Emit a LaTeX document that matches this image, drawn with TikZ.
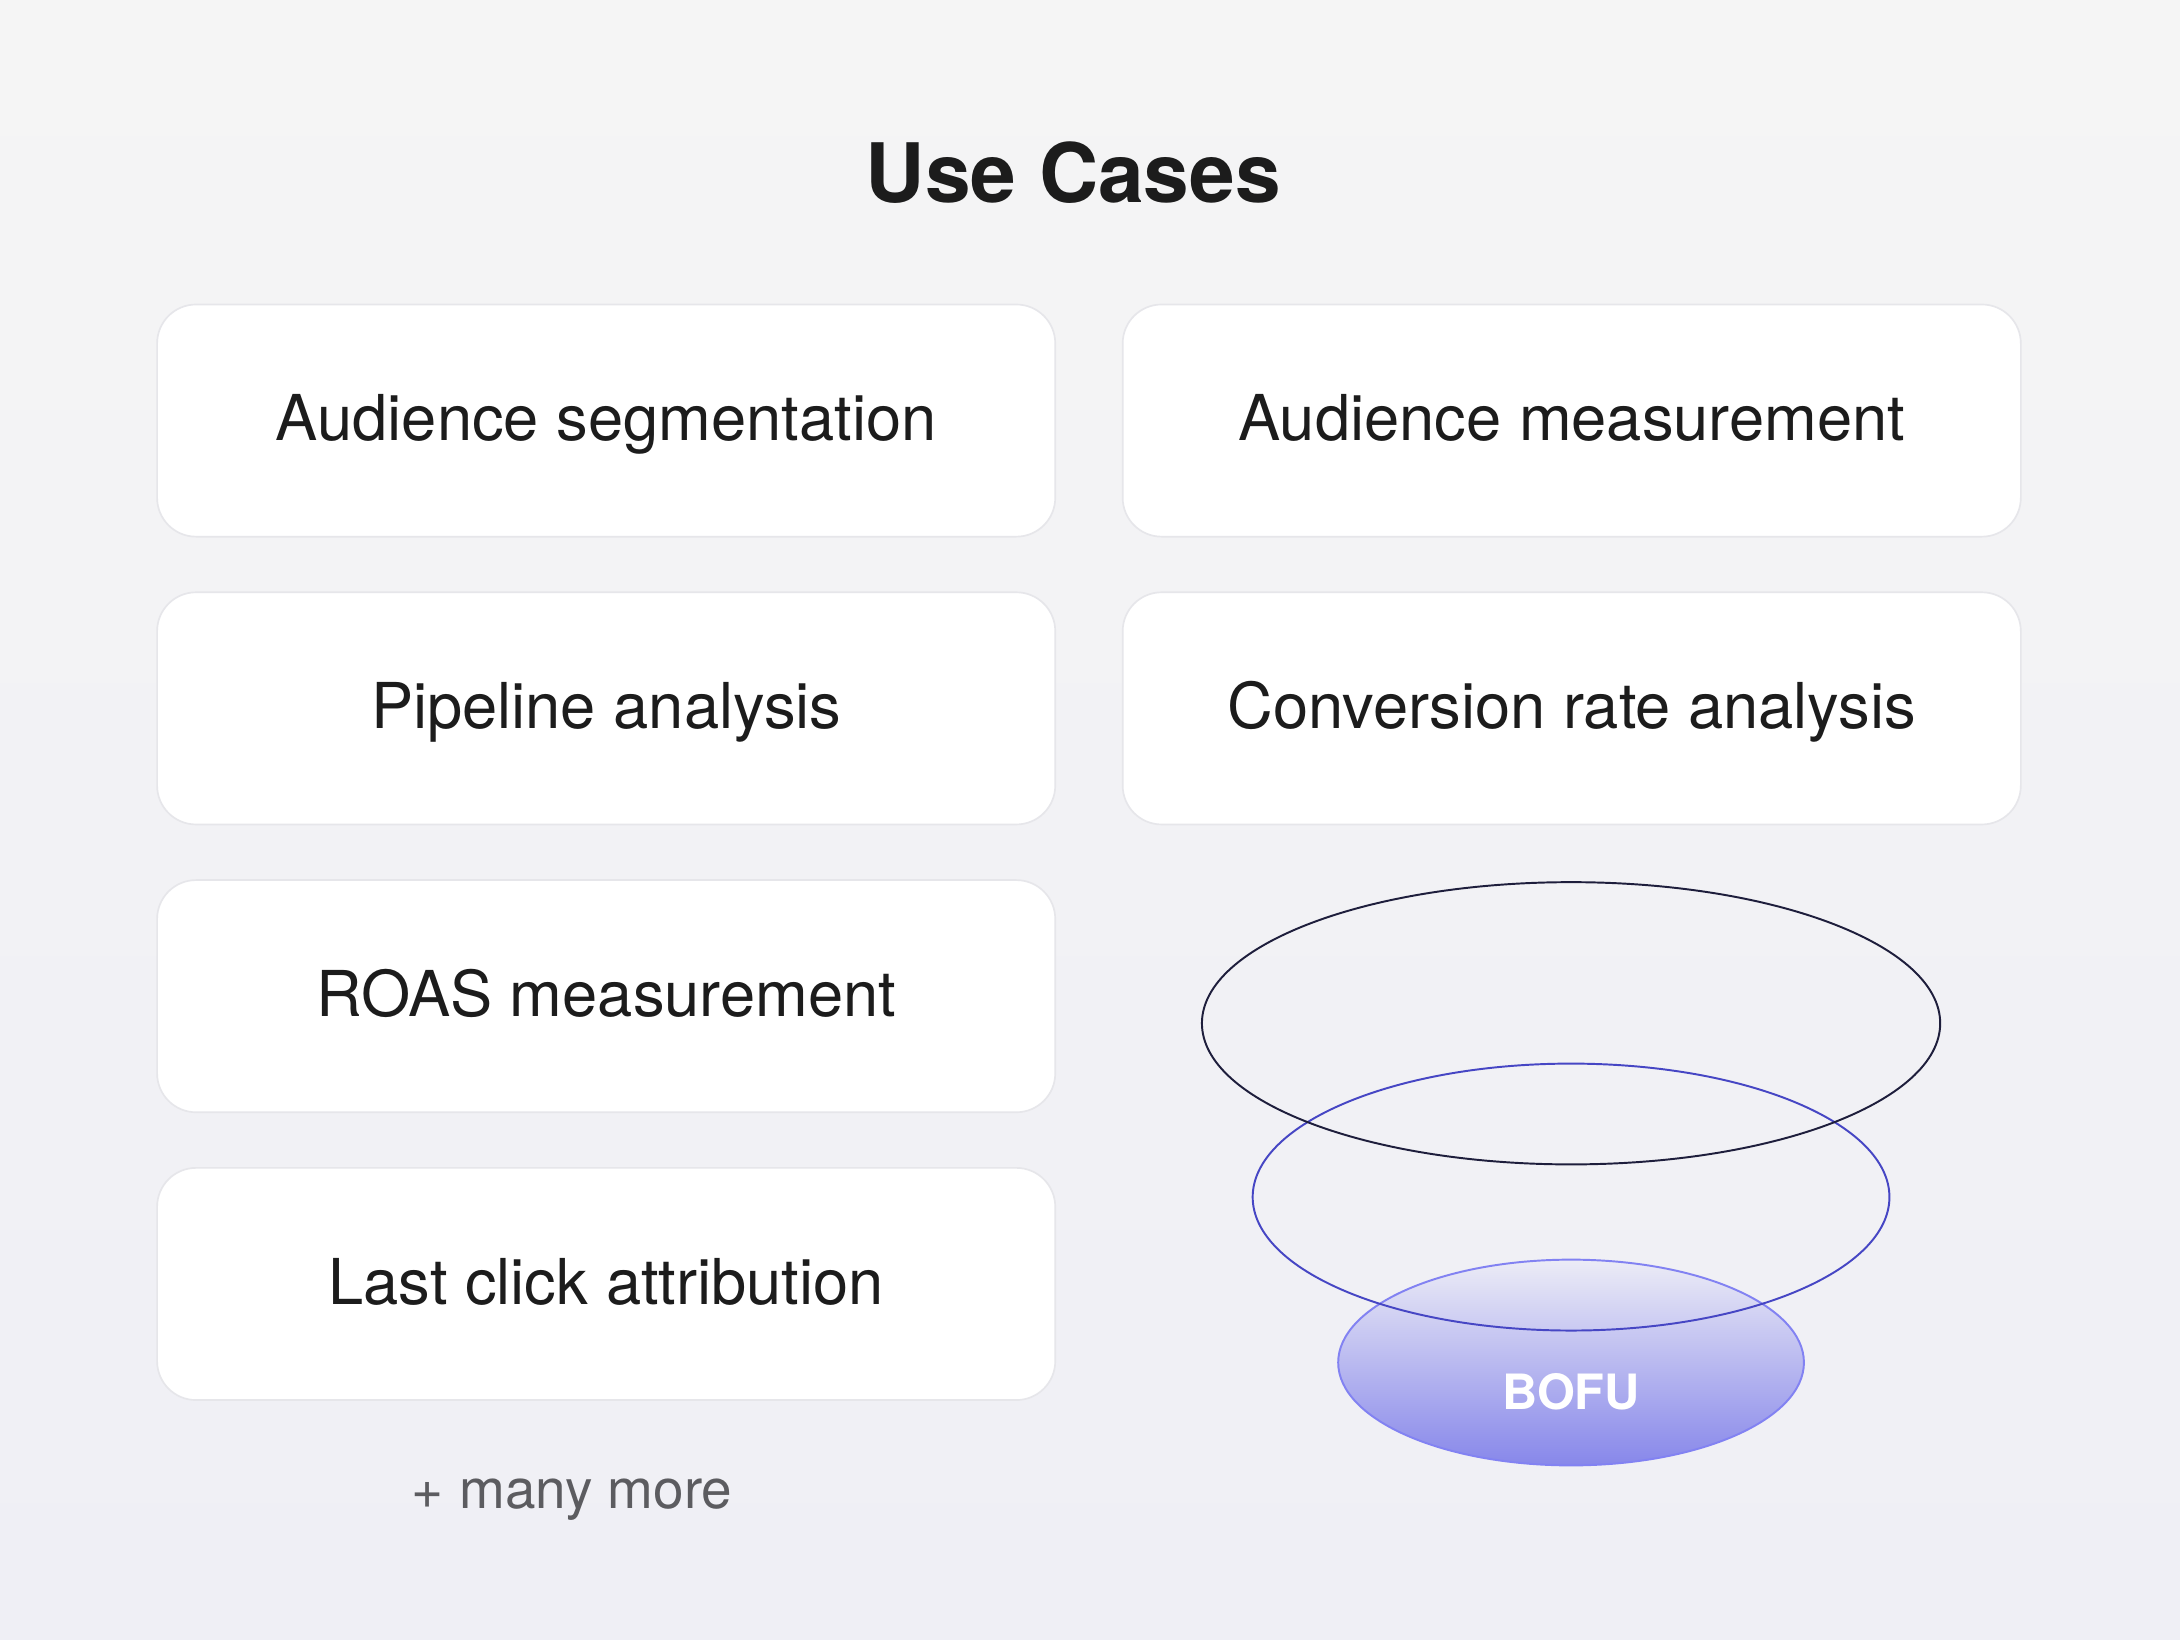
\documentclass[tikz,border=0pt]{standalone}
\usepackage{fontspec}
\setmainfont{TeX Gyre Heros}
\usetikzlibrary{shapes.geometric}

\definecolor{bgtop}{HTML}{F5F5F5}
\definecolor{bgbottom}{HTML}{EFEFF5}
\definecolor{caseedge}{HTML}{E6E6EA}
\definecolor{casetext}{HTML}{1C1C1C}
\definecolor{moretext}{HTML}{5C5C60}
\definecolor{stagetop}{HTML}{1E1E3C}
\definecolor{stagemid}{HTML}{4646C4}
\definecolor{stageedge}{HTML}{8282F2}
\definecolor{stagefade}{HTML}{ECECF6}
\definecolor{stagedeep}{HTML}{8787EA}

\begin{document}
\begin{tikzpicture}[x=1pt, y=-1pt]

    \tikzset{%
    every case/.style={
        rectangle,
        rounded corners=28pt,
        fill=white,
        draw=caseedge,
        line width=1.2pt,
        minimum width=646pt,
        minimum height=167pt,
        text=casetext,
        font=\fontsize{45.5}{54}\selectfont,
        text height=29pt,
        text depth=0pt
        },
    every stage/.style={
        ellipse,
        inner sep=0pt,
        line width=1.4pt
        },
    stage 1/.style={draw=stagetop, minimum width=531pt, minimum height=203pt},
    stage 2/.style={draw=stagemid, minimum width=458pt, minimum height=192pt},
    stage 3/.style={draw=stageedge, top color=stagefade, bottom color=stagedeep,
        minimum width=335pt, minimum height=148pt},
    }

    % Background and page size
    \fill [top color=bgtop, bottom color=bgbottom] (0,0) rectangle (1568,1179);
    \useasboundingbox (0,0) rectangle (1568,1179);

    \node [text=casetext, font=\bfseries\fontsize{59}{70}\selectfont,
        text height=42pt, text depth=0pt] (title) at (772,125) {Use Cases};

    % Left column of use cases
    \foreach \l [count=\y] in {Audience segmentation, Pipeline analysis, ROAS measurement, Last click attribution}
    \node [every case/.try] (left-\y) at (436,95.5+\y*207) {\l};

    % Right column of use cases
    \foreach \l [count=\y] in {Audience measurement, Conversion rate analysis}
    \node [every case/.try] (right-\y) at (1130.5,95.5+\y*207) {\l};

    \node [text=moretext, font=\fontsize{39.5}{47}\selectfont,
        text height=28pt, text depth=0pt] (more) at (411.5,1071) {+ many more};

    % Funnel stages, drawn from the bottom up
    \foreach \m/\y in {3/980,2/861,1/736}
    \node [every stage/.try, stage \m/.try] (stage-\m) at (1130,\y) {};

    \node [text=white, font=\bfseries\fontsize{35}{42}\selectfont]
        (bofu) at ([yshift=-21pt]stage-3.center) {BOFU};

\end{tikzpicture}
\end{document}
